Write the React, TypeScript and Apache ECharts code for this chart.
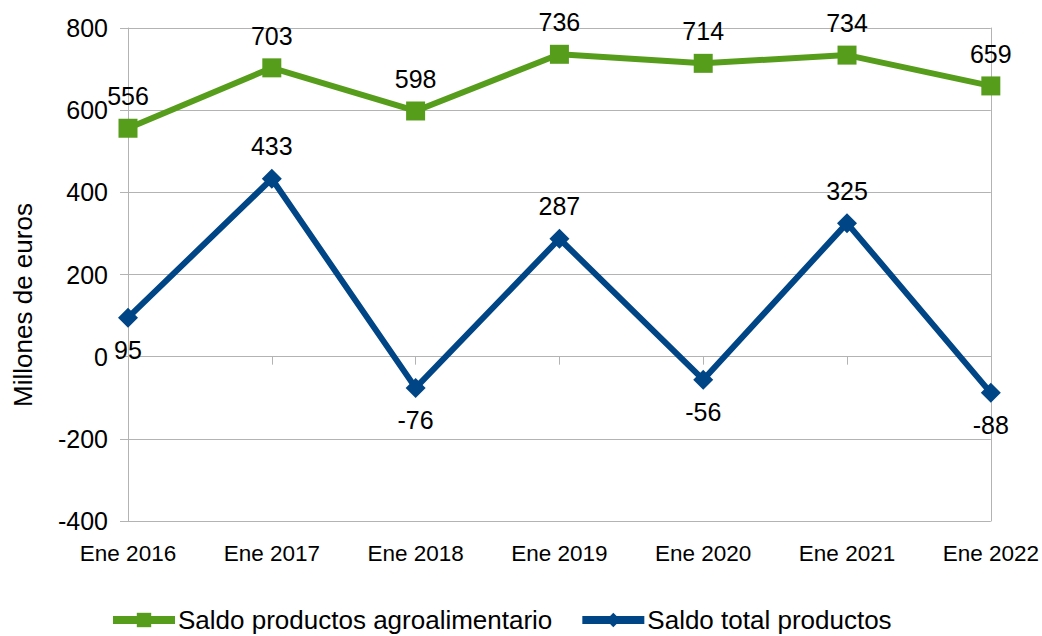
import React, { useEffect, useRef } from "react";
import * as echarts from "echarts";

const categories = ["Ene 2016", "Ene 2017", "Ene 2018", "Ene 2019", "Ene 2020", "Ene 2021", "Ene 2022"];
const agroValues = [556, 703, 598, 736, 714, 734, 659];
const totalValues = [95, 433, -76, 287, -56, 325, -88];
const totalLabelPos = ["bottom", "top", "bottom", "top", "bottom", "top", "bottom"];
const yTicks = { min: -400, max: 800, interval: 200 };
const seriesNames = ["Saldo productos agroalimentario", "Saldo total productos"];
const axisName = "Millones de euros";

const FONT = "'Liberation Sans', Arial, sans-serif";
const GREEN = "#579d1c";
const BLUE = "#004586";
const GRID = "#b3b3b3";

export default function App() {
  const ref = useRef<HTMLDivElement>(null);
  useEffect(() => {
    if (!ref.current) return;
    const chart = echarts.init(ref.current, null, { renderer: "svg" });
    const labelStyle = { show: true, color: "#000", fontSize: 25, fontFamily: FONT, distance: 10 };
    chart.setOption({
      animation: false,
      textStyle: { fontFamily: FONT },
      grid: { left: 128, right: 50, top: 28, bottom: 115, containLabel: false },
      xAxis: {
        type: "category",
        data: categories,
        boundaryGap: false,
        axisLine: { show: true, lineStyle: { color: GRID, width: 1 } },
        axisTick: { show: true, length: 8, lineStyle: { color: GRID } },
        axisLabel: { color: "#000", fontSize: 22.5, fontFamily: FONT, margin: 21 },
        splitLine: { show: false },
      },
      yAxis: [
        {
          type: "value",
          min: yTicks.min,
          max: yTicks.max,
          interval: yTicks.interval,
          axisLine: { show: true, lineStyle: { color: GRID, width: 1 } },
          axisTick: { show: true, length: 8, lineStyle: { color: GRID } },
          axisLabel: { color: "#000", fontSize: 25, fontFamily: FONT, margin: 20 },
          splitLine: { show: true, lineStyle: { color: GRID, width: 1 } },
        },
        {
          type: "value",
          position: "right",
          min: yTicks.min,
          max: yTicks.max,
          interval: yTicks.interval,
          axisLine: { show: true, lineStyle: { color: GRID, width: 1 } },
          axisTick: { show: false },
          axisLabel: { show: false },
          splitLine: { show: false },
        },
      ],
      legend: {
        left: 104,
        top: 602,
        itemWidth: 62,
        itemHeight: 18,
        itemGap: 26,
        lineStyle: { width: 8 },
        textStyle: { color: "#000", fontSize: 26, fontFamily: FONT, padding: [0, 0, 0, -2] },
        data: seriesNames,
      },
      graphic: [
        {
          type: "text",
          x: 23,
          y: 305,
          rotation: Math.PI / 2,
          style: {
            text: axisName,
            fontSize: 26,
            fontFamily: FONT,
            fill: "#000",
            textAlign: "center",
            textVerticalAlign: "middle",
          },
        },
      ],
      series: [
        {
          name: seriesNames[0],
          type: "line",
          data: agroValues,
          symbol: "rect",
          symbolSize: 19,
          lineStyle: { color: GREEN, width: 6 },
          itemStyle: { color: GREEN },
          label: { ...labelStyle, position: "top" },
        },
        {
          name: seriesNames[1],
          type: "line",
          data: totalValues.map((v, i) => ({ value: v, label: { position: totalLabelPos[i] } })),
          symbol: "diamond",
          symbolSize: 20,
          lineStyle: { color: BLUE, width: 6 },
          itemStyle: { color: BLUE },
          label: { ...labelStyle, position: "top" },
        },
      ],
    });
    return () => chart.dispose();
  }, []);
  return <div ref={ref} style={{ width: 1042, height: 636, position: "absolute", left: 0, top: 0 }} />;
}
